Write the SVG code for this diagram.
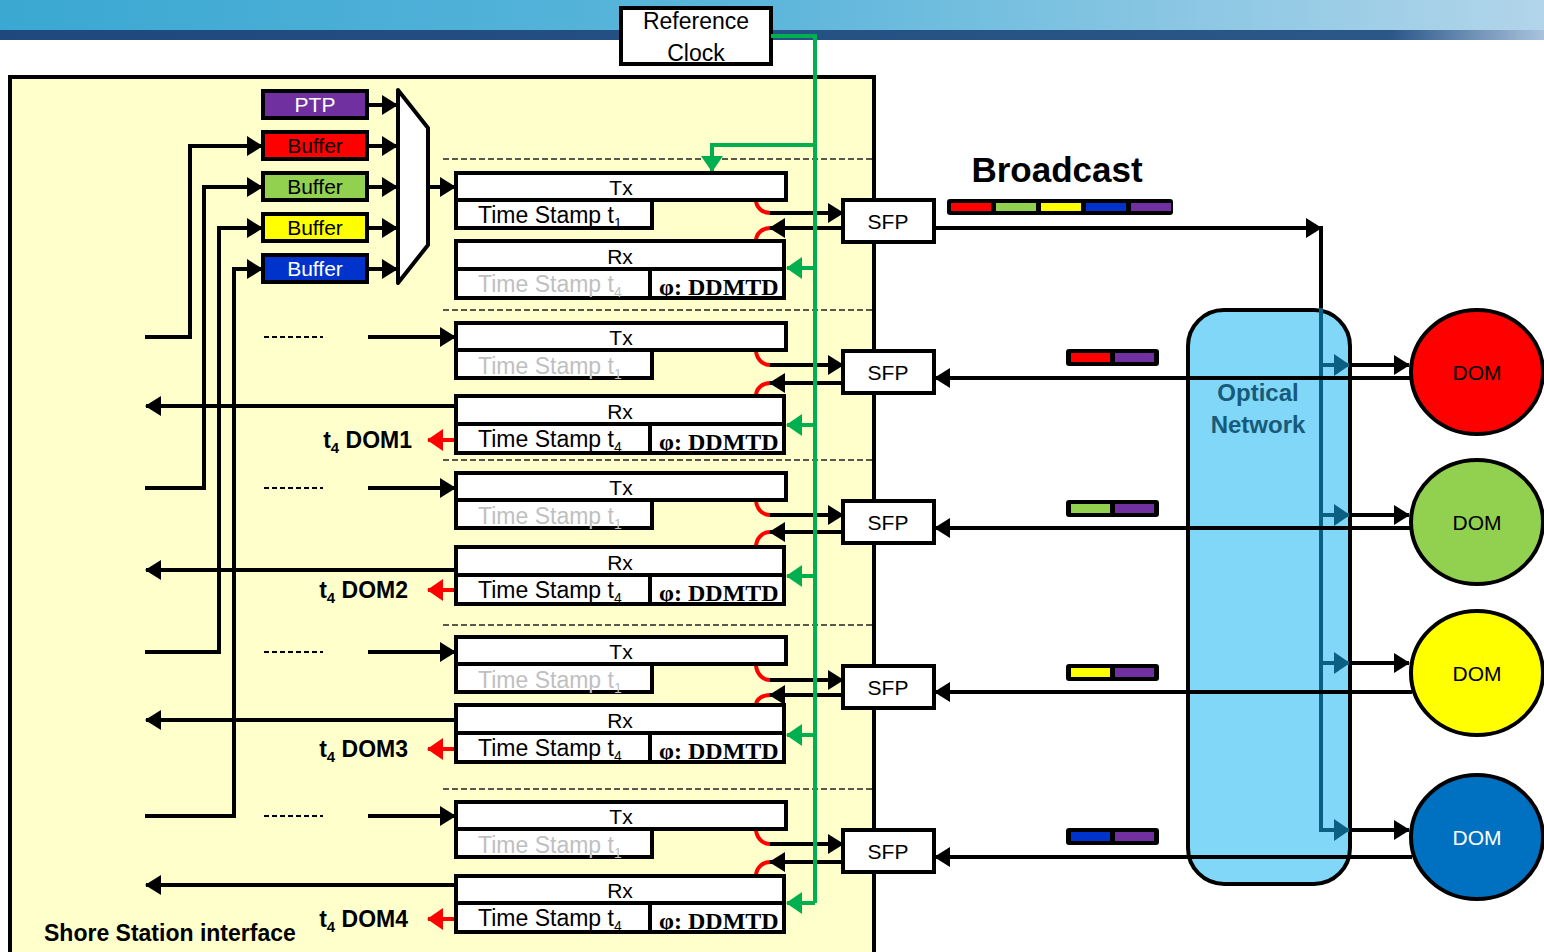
<svg xmlns="http://www.w3.org/2000/svg" width="1544" height="952" viewBox="0 0 1544 952">
<defs>
<linearGradient id="gTop" x1="0" y1="0" x2="1" y2="0">
<stop offset="0" stop-color="#3aa8d2"/><stop offset="0.5" stop-color="#5db6db"/><stop offset="1" stop-color="#b2d5ea"/>
</linearGradient>
<linearGradient id="gBand" x1="0" y1="0" x2="1" y2="0">
<stop offset="0" stop-color="#1f497d"/><stop offset="0.9" stop-color="#2a5688"/><stop offset="1" stop-color="#a9c3dd"/>
</linearGradient>
<marker id="ab" markerUnits="userSpaceOnUse" markerWidth="16" markerHeight="20" viewBox="0 0 16 20" refX="15" refY="10" orient="auto"><path d="M0,0 L16,10 L0,20 z" fill="#000"/></marker>
<marker id="ag" markerUnits="userSpaceOnUse" markerWidth="16" markerHeight="22" viewBox="0 0 16 22" refX="15" refY="11" orient="auto"><path d="M0,0 L16,11 L0,22 z" fill="#00b050"/></marker>
<marker id="ar" markerUnits="userSpaceOnUse" markerWidth="16" markerHeight="22" viewBox="0 0 16 22" refX="15" refY="11" orient="auto"><path d="M0,0 L16,11 L0,22 z" fill="#ff0000"/></marker>
<marker id="at" markerUnits="userSpaceOnUse" markerWidth="16" markerHeight="22" viewBox="0 0 16 22" refX="15" refY="11" orient="auto"><path d="M0,0 L16,11 L0,22 z" fill="#0b5f82"/></marker>
<style>
.bx{fill:#fff;stroke:#000;stroke-width:4}
.ln{fill:none;stroke:#000;stroke-width:4}
.lna{fill:none;stroke:#000;stroke-width:4;marker-end:url(#ab)}
.gr{fill:none;stroke:#00b050;stroke-width:4}
.gra{fill:none;stroke:#00b050;stroke-width:4;marker-end:url(#ag)}
.rda{fill:none;stroke:#ff0000;stroke-width:4;marker-end:url(#ar)}
.arc{fill:none;stroke:#ff0000;stroke-width:4}
.tl{fill:none;stroke:#0b5f82;stroke-width:4}
.tla{fill:none;stroke:#0b5f82;stroke-width:4;marker-end:url(#at)}
.sep{fill:none;stroke:#222;stroke-width:1.5;stroke-dasharray:6,3}
.sd{fill:none;stroke:#000;stroke-width:2;stroke-dasharray:5,3}
.t{font-family:"Liberation Sans",Arial,sans-serif;font-size:21px;fill:#000}
.tc{text-anchor:middle}
.ts{font-family:"Liberation Sans",Arial,sans-serif;font-size:23px;fill:#000}
.gy{fill:#bfbfbf}
.dd{font-family:"Liberation Serif","Times New Roman",serif;font-size:24px;font-weight:bold;fill:#000}
.lb{font-family:"Liberation Sans",Arial,sans-serif;font-size:23px;font-weight:bold;fill:#000}
</style>
</defs>

<g id="header">
<rect x="0" y="0" width="1544" height="31" fill="url(#gTop)"/>
<rect x="0" y="30" width="1544" height="10" fill="url(#gBand)"/>
</g>

<g id="shore-panel">
<rect x="10" y="77" width="864" height="890" fill="#ffffcc" stroke="#000" stroke-width="4"/>
<text class="lb" x="44" y="941">Shore Station interface</text>
</g>

<g id="separators">
<line class="sep" x1="443" y1="159" x2="872" y2="159"/>
<line class="sep" x1="443" y1="310" x2="872" y2="310"/>
<line class="sep" x1="443" y1="460" x2="872" y2="460"/>
<line class="sep" x1="443" y1="625" x2="872" y2="625"/>
<line class="sep" x1="443" y1="789" x2="872" y2="789"/>
</g>

<g id="reference-clock">
<rect class="bx" x="621" y="8" width="150" height="56"/>
<text class="t tc" x="696" y="29" style="font-size:23px">Reference</text>
<text class="t tc" x="696" y="61" style="font-size:23px">Clock</text>
</g>

<g id="buffers">
<rect x="263" y="91" width="104" height="27" fill="#7030a0" stroke="#000" stroke-width="4"/>
<text class="t tc" x="315" y="112" style="fill:#fff">PTP</text>
<rect x="263" y="132" width="104" height="27" fill="#ff0000" stroke="#000" stroke-width="4"/>
<text class="t tc" x="315" y="153">Buffer</text>
<rect x="263" y="173" width="104" height="27" fill="#92d050" stroke="#000" stroke-width="4"/>
<text class="t tc" x="315" y="194">Buffer</text>
<rect x="263" y="214" width="104" height="27" fill="#ffff00" stroke="#000" stroke-width="4"/>
<text class="t tc" x="315" y="235">Buffer</text>
<rect x="263" y="255" width="104" height="27" fill="#0033cc" stroke="#000" stroke-width="4"/>
<text class="t tc" x="315" y="276" style="fill:#fff">Buffer</text>
</g>

<g id="mux">
<polygon points="398,90 428,128 428,245 398,283" fill="#fff" stroke="#000" stroke-width="4" stroke-linejoin="round"/>
</g>

<g id="packets">
<text class="lb tc" x="1057" y="182" style="font-size:35px">Broadcast</text>
<rect x="947" y="199" width="226" height="16" rx="3" fill="#000"/>
<rect x="951" y="203" width="40" height="8" fill="#ff0000"/>
<rect x="996" y="203" width="40" height="8" fill="#92d050"/>
<rect x="1041" y="203" width="40" height="8" fill="#ffff00"/>
<rect x="1086" y="203" width="40" height="8" fill="#0033cc"/>
<rect x="1131" y="203" width="40" height="8" fill="#7030a0"/>
<rect x="1066" y="349" width="93" height="17" rx="3" fill="#000"/>
<rect x="1071" y="353" width="39" height="9" fill="#ff0000"/>
<rect x="1115" y="353" width="39" height="9" fill="#7030a0"/>
<rect x="1066" y="500" width="93" height="17" rx="3" fill="#000"/>
<rect x="1071" y="504" width="39" height="9" fill="#92d050"/>
<rect x="1115" y="504" width="39" height="9" fill="#7030a0"/>
<rect x="1066" y="664" width="93" height="17" rx="3" fill="#000"/>
<rect x="1071" y="668" width="39" height="9" fill="#ffff00"/>
<rect x="1115" y="668" width="39" height="9" fill="#7030a0"/>
<rect x="1066" y="828" width="93" height="17" rx="3" fill="#000"/>
<rect x="1071" y="832" width="39" height="9" fill="#0033cc"/>
<rect x="1115" y="832" width="39" height="9" fill="#7030a0"/>
</g>

<g id="connectors">
<path class="lna" d="M145,337 H190 V146 H262"/>
<path class="lna" d="M145,488 H204 V187 H262"/>
<path class="lna" d="M145,652 H219 V228 H262"/>
<path class="lna" d="M145,816 H234 V269 H262"/>
<line class="lna" x1="367" y1="105" x2="397" y2="105"/>
<line class="lna" x1="367" y1="146" x2="397" y2="146"/>
<line class="lna" x1="367" y1="187" x2="397" y2="187"/>
<line class="lna" x1="367" y1="228" x2="397" y2="228"/>
<line class="lna" x1="367" y1="269" x2="397" y2="269"/>
<line class="lna" x1="428" y1="187" x2="455" y2="187"/>
<line class="sd" x1="264" y1="337" x2="323" y2="337"/>
<line class="sd" x1="264" y1="488" x2="323" y2="488"/>
<line class="sd" x1="264" y1="652" x2="323" y2="652"/>
<line class="sd" x1="264" y1="816" x2="323" y2="816"/>
<line class="lna" x1="368" y1="337" x2="455" y2="337"/>
<line class="lna" x1="368" y1="488" x2="455" y2="488"/>
<line class="lna" x1="368" y1="652" x2="455" y2="652"/>
<line class="lna" x1="368" y1="816" x2="455" y2="816"/>
<line class="lna" x1="456" y1="406" x2="146" y2="406"/>
<line class="lna" x1="456" y1="570" x2="146" y2="570"/>
<line class="lna" x1="456" y1="720" x2="146" y2="720"/>
<line class="lna" x1="456" y1="885" x2="146" y2="885"/>
<line class="rda" x1="456" y1="440" x2="428" y2="440"/>
<line class="rda" x1="456" y1="590" x2="428" y2="590"/>
<line class="rda" x1="456" y1="749" x2="428" y2="749"/>
<line class="rda" x1="456" y1="919" x2="428" y2="919"/>
<path class="arc" d="M756,200 A14,13 0 0 0 770,213"/>
<line class="lna" x1="770" y1="213" x2="843" y2="213"/>
<path class="arc" d="M756,241 A14,13 0 0 1 770,228"/>
<line class="lna" x1="843" y1="228" x2="770" y2="228"/>
<path class="arc" d="M756,350 A14,15 0 0 0 770,365"/>
<line class="lna" x1="770" y1="365" x2="843" y2="365"/>
<path class="arc" d="M756,396 A14,13 0 0 1 770,383"/>
<line class="lna" x1="843" y1="383" x2="770" y2="383"/>
<path class="arc" d="M756,500 A14,15 0 0 0 770,515"/>
<line class="lna" x1="770" y1="515" x2="843" y2="515"/>
<path class="arc" d="M756,547 A14,15 0 0 1 770,532"/>
<line class="lna" x1="843" y1="532" x2="770" y2="532"/>
<path class="arc" d="M756,664 A14,16 0 0 0 770,680"/>
<line class="lna" x1="770" y1="680" x2="843" y2="680"/>
<path class="arc" d="M756,705 A14,10 0 0 1 770,695"/>
<line class="lna" x1="843" y1="695" x2="770" y2="695"/>
<path class="arc" d="M756,829 A14,15 0 0 0 770,844"/>
<line class="lna" x1="770" y1="844" x2="843" y2="844"/>
<path class="arc" d="M756,876 A14,14 0 0 1 770,862"/>
<line class="lna" x1="843" y1="862" x2="770" y2="862"/>
<path class="gr" d="M771,36 H815 V903"/>
<path class="gra" d="M815,145 H712 V171"/>
<line class="gra" x1="815" y1="268" x2="787" y2="268"/>
<line class="gra" x1="815" y1="425" x2="787" y2="425"/>
<line class="gra" x1="815" y1="576" x2="787" y2="576"/>
<line class="gra" x1="815" y1="735" x2="787" y2="735"/>
<line class="gra" x1="815" y1="903" x2="787" y2="903"/>
</g>

<g id="optical-network">
<path class="ln" d="M934,228 H1321 V312"/>
<line class="lna" x1="1280" y1="228" x2="1321" y2="228"/>
<rect x="1188" y="310" width="162" height="574" rx="36" fill="#80d7f7" stroke="#000" stroke-width="4"/>
<path class="tl" d="M1321,308 V830 H1330"/>
<line class="tla" x1="1321" y1="365" x2="1349" y2="365"/>
<line class="tla" x1="1321" y1="515" x2="1349" y2="515"/>
<line class="tla" x1="1321" y1="663" x2="1349" y2="663"/>
<line class="tla" x1="1321" y1="830" x2="1349" y2="830"/>
<text class="lb tc" x="1258" y="401" style="fill:#175a7a;font-size:24px">Optical</text>
<text class="lb tc" x="1258" y="433" style="fill:#175a7a;font-size:24px">Network</text>
</g>

<g id="right-links">
<line class="lna" x1="1349" y1="365" x2="1409" y2="365"/>
<line class="lna" x1="1349" y1="515" x2="1409" y2="515"/>
<line class="lna" x1="1349" y1="663" x2="1409" y2="663"/>
<line class="lna" x1="1349" y1="830" x2="1409" y2="830"/>
<line class="lna" x1="1412" y1="378" x2="935" y2="378"/>
<line class="lna" x1="1412" y1="528" x2="935" y2="528"/>
<line class="lna" x1="1412" y1="692" x2="935" y2="692"/>
<line class="lna" x1="1412" y1="857" x2="935" y2="857"/>
</g>

<g id="dom1"><ellipse cx="1477" cy="372" rx="66" ry="62" fill="#ff0000" stroke="#000" stroke-width="4"/><text class="t tc" x="1477" y="380">DOM</text></g>
<g id="dom2"><ellipse cx="1477" cy="522" rx="66" ry="62" fill="#92d050" stroke="#000" stroke-width="4"/><text class="t tc" x="1477" y="530">DOM</text></g>
<g id="dom3"><ellipse cx="1477" cy="673" rx="66" ry="62" fill="#ffff00" stroke="#000" stroke-width="4"/><text class="t tc" x="1477" y="681">DOM</text></g>
<g id="dom4"><ellipse cx="1477" cy="837" rx="66" ry="62" fill="#0070c0" stroke="#000" stroke-width="4"/><text class="t tc" x="1477" y="845" style="fill:#fff">DOM</text></g>

<g id="sfp0"><rect class="bx" x="843" y="200" width="91" height="42"/><text class="t tc" x="888" y="229">SFP</text></g>
<g id="sfp1"><rect class="bx" x="843" y="351" width="91" height="42"/><text class="t tc" x="888" y="380">SFP</text></g>
<g id="sfp2"><rect class="bx" x="843" y="501" width="91" height="42"/><text class="t tc" x="888" y="530">SFP</text></g>
<g id="sfp3"><rect class="bx" x="843" y="666" width="91" height="42"/><text class="t tc" x="888" y="695">SFP</text></g>
<g id="sfp4"><rect class="bx" x="843" y="830" width="91" height="42"/><text class="t tc" x="888" y="859">SFP</text></g>

<g id="ch0-tx">
<rect class="bx" x="456" y="173" width="330" height="27"/>
<rect class="bx" x="456" y="200" width="196" height="28"/>
<text class="t tc" x="621" y="195">Tx</text>
<text class="ts" x="478" y="223">Time Stamp t<tspan font-size="14" dy="5">1</tspan></text>
</g>
<g id="ch0-rx">
<rect class="bx" x="456" y="241" width="328" height="57"/>
<line class="ln" x1="456" y1="269" x2="784" y2="269"/>
<line class="ln" x1="650" y1="269" x2="650" y2="298"/>
<text class="t tc" x="620" y="264">Rx</text>
<text class="ts gy" x="478" y="292">Time Stamp t<tspan font-size="14" dy="5">4</tspan></text>
<text class="dd" x="659" y="295">φ: DDMTD</text>
</g>

<g id="ch1-tx">
<rect class="bx" x="456" y="323" width="330" height="27"/>
<rect class="bx" x="456" y="350" width="196" height="28"/>
<text class="t tc" x="621" y="345">Tx</text>
<text class="ts gy" x="478" y="374">Time Stamp t<tspan font-size="14" dy="5">1</tspan></text>
</g>
<g id="ch1-rx">
<rect class="bx" x="456" y="396" width="328" height="57"/>
<line class="ln" x1="456" y1="424" x2="784" y2="424"/>
<line class="ln" x1="650" y1="424" x2="650" y2="453"/>
<text class="t tc" x="620" y="419">Rx</text>
<text class="ts" x="478" y="447">Time Stamp t<tspan font-size="14" dy="5">4</tspan></text>
<text class="dd" x="659" y="450">φ: DDMTD</text>
<text class="lb" x="412" y="448" text-anchor="end">t<tspan font-size="15" dy="5">4</tspan><tspan dy="-5"> DOM1</tspan></text>
</g>

<g id="ch2-tx">
<rect class="bx" x="456" y="473" width="330" height="27"/>
<rect class="bx" x="456" y="500" width="196" height="28"/>
<text class="t tc" x="621" y="495">Tx</text>
<text class="ts gy" x="478" y="524">Time Stamp t<tspan font-size="14" dy="5">1</tspan></text>
</g>
<g id="ch2-rx">
<rect class="bx" x="456" y="547" width="328" height="57"/>
<line class="ln" x1="456" y1="575" x2="784" y2="575"/>
<line class="ln" x1="650" y1="575" x2="650" y2="604"/>
<text class="t tc" x="620" y="570">Rx</text>
<text class="ts" x="478" y="598">Time Stamp t<tspan font-size="14" dy="5">4</tspan></text>
<text class="dd" x="659" y="601">φ: DDMTD</text>
<text class="lb" x="408" y="598" text-anchor="end">t<tspan font-size="15" dy="5">4</tspan><tspan dy="-5"> DOM2</tspan></text>
</g>

<g id="ch3-tx">
<rect class="bx" x="456" y="637" width="330" height="27"/>
<rect class="bx" x="456" y="664" width="196" height="28"/>
<text class="t tc" x="621" y="659">Tx</text>
<text class="ts gy" x="478" y="688">Time Stamp t<tspan font-size="14" dy="5">1</tspan></text>
</g>
<g id="ch3-rx">
<rect class="bx" x="456" y="705" width="328" height="57"/>
<line class="ln" x1="456" y1="733" x2="784" y2="733"/>
<line class="ln" x1="650" y1="733" x2="650" y2="762"/>
<text class="t tc" x="620" y="728">Rx</text>
<text class="ts" x="478" y="756">Time Stamp t<tspan font-size="14" dy="5">4</tspan></text>
<text class="dd" x="659" y="759">φ: DDMTD</text>
<text class="lb" x="408" y="757" text-anchor="end">t<tspan font-size="15" dy="5">4</tspan><tspan dy="-5"> DOM3</tspan></text>
</g>

<g id="ch4-tx">
<rect class="bx" x="456" y="802" width="330" height="27"/>
<rect class="bx" x="456" y="829" width="196" height="28"/>
<text class="t tc" x="621" y="824">Tx</text>
<text class="ts gy" x="478" y="853">Time Stamp t<tspan font-size="14" dy="5">1</tspan></text>
</g>
<g id="ch4-rx">
<rect class="bx" x="456" y="876" width="328" height="56"/>
<line class="ln" x1="456" y1="903" x2="784" y2="903"/>
<line class="ln" x1="650" y1="903" x2="650" y2="932"/>
<text class="t tc" x="620" y="898">Rx</text>
<text class="ts" x="478" y="926">Time Stamp t<tspan font-size="14" dy="5">4</tspan></text>
<text class="dd" x="659" y="929">φ: DDMTD</text>
<text class="lb" x="408" y="927" text-anchor="end">t<tspan font-size="15" dy="5">4</tspan><tspan dy="-5"> DOM4</tspan></text>
</g>
</svg>
